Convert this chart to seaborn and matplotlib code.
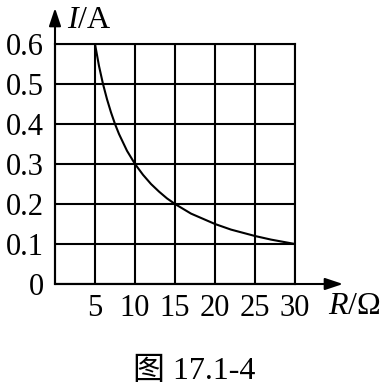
import matplotlib
matplotlib.use("Agg")
import matplotlib.pyplot as plt
import seaborn as sns
import pandas as pd

# Data
R_values = [5, 5.5, 6, 6.5, 7, 7.5, 8, 9, 10, 11, 12, 13, 14, 15, 17, 20, 22, 25, 27, 30]
I_values = [0.6, 0.545, 0.5, 0.462, 0.429, 0.4, 0.375, 0.333, 0.3, 0.273, 0.25, 0.231,
            0.214, 0.2, 0.176, 0.15, 0.136, 0.12, 0.111, 0.1]
x_ticks = [5, 10, 15, 20, 25, 30]
x_tick_labels = ["5", "10", "15", "20", "25", "30"]
y_ticks = [0, 0.1, 0.2, 0.3, 0.4, 0.5, 0.6]
y_tick_labels = ["0", "0.1", "0.2", "0.3", "0.4", "0.5", "0.6"]
x_label = "R"
x_unit = "/Ω"
y_label = "I"
y_unit = "/A"
caption = "图 17.1-4"

sns.set_theme(style="white")
plt.rcParams['font.family'] = ['Liberation Serif', 'Noto Sans CJK SC']
plt.rcParams['mathtext.fontset'] = 'custom'
plt.rcParams['mathtext.rm'] = 'Liberation Serif'
plt.rcParams['mathtext.it'] = 'Liberation Serif:italic'

W, H = 388, 387
fig = plt.figure(figsize=(W / 100, H / 100), dpi=100)
x0, x1 = 55, 295
y0, y1 = 284, 44
ax = fig.add_axes([x0 / W, (H - y0) / H, (x1 - x0) / W, (y0 - y1) / H])

df = pd.DataFrame({"R": R_values, "I": I_values})
sns.lineplot(data=df, x="R", y="I", ax=ax, color="black", linewidth=1.5,
             sort=False, estimator=None)

ax.set_xlim(0, 30)
ax.set_ylim(0, 0.6)
ax.set_xticks(x_ticks)
ax.set_xticklabels(x_tick_labels)
ax.set_yticks(y_ticks)
ax.set_yticklabels(y_tick_labels)
ax.tick_params(axis="both", length=0, labelsize=22, colors="black")
ax.tick_params(axis="x", pad=7)
ax.tick_params(axis="y", pad=8)
ax.set_xlabel("")
ax.set_ylabel("")
ax.grid(True, color="black", linewidth=1.5)
for s in ax.spines.values():
    s.set_color("black")
    s.set_linewidth(1.5)

# axis arrows
ax.annotate("", xy=(36, 0), xytext=(0, 0), xycoords="data",
            arrowprops=dict(arrowstyle="-|>,head_length=0.9,head_width=0.3",
                            color="black", lw=1.5, shrinkA=0, shrinkB=0),
            annotation_clip=False)
ax.annotate("", xy=(0, 0.69), xytext=(0, 0), xycoords="data",
            arrowprops=dict(arrowstyle="-|>,head_length=0.9,head_width=0.3",
                            color="black", lw=1.5, shrinkA=0, shrinkB=0),
            annotation_clip=False)

fig.text(67 / W, (H - 21) / H, f"${y_label}$" + y_unit, fontsize=23,
         ha="left", va="center", color="black")
fig.text(328 / W, (H - 306) / H, f"${x_label}$" + x_unit, fontsize=23,
         ha="left", va="center", color="black")
fig.text(194 / W, (H - 371) / H, caption, fontsize=23,
         ha="center", va="center", color="black")

fig.savefig("out.png", dpi=100, facecolor="white")
